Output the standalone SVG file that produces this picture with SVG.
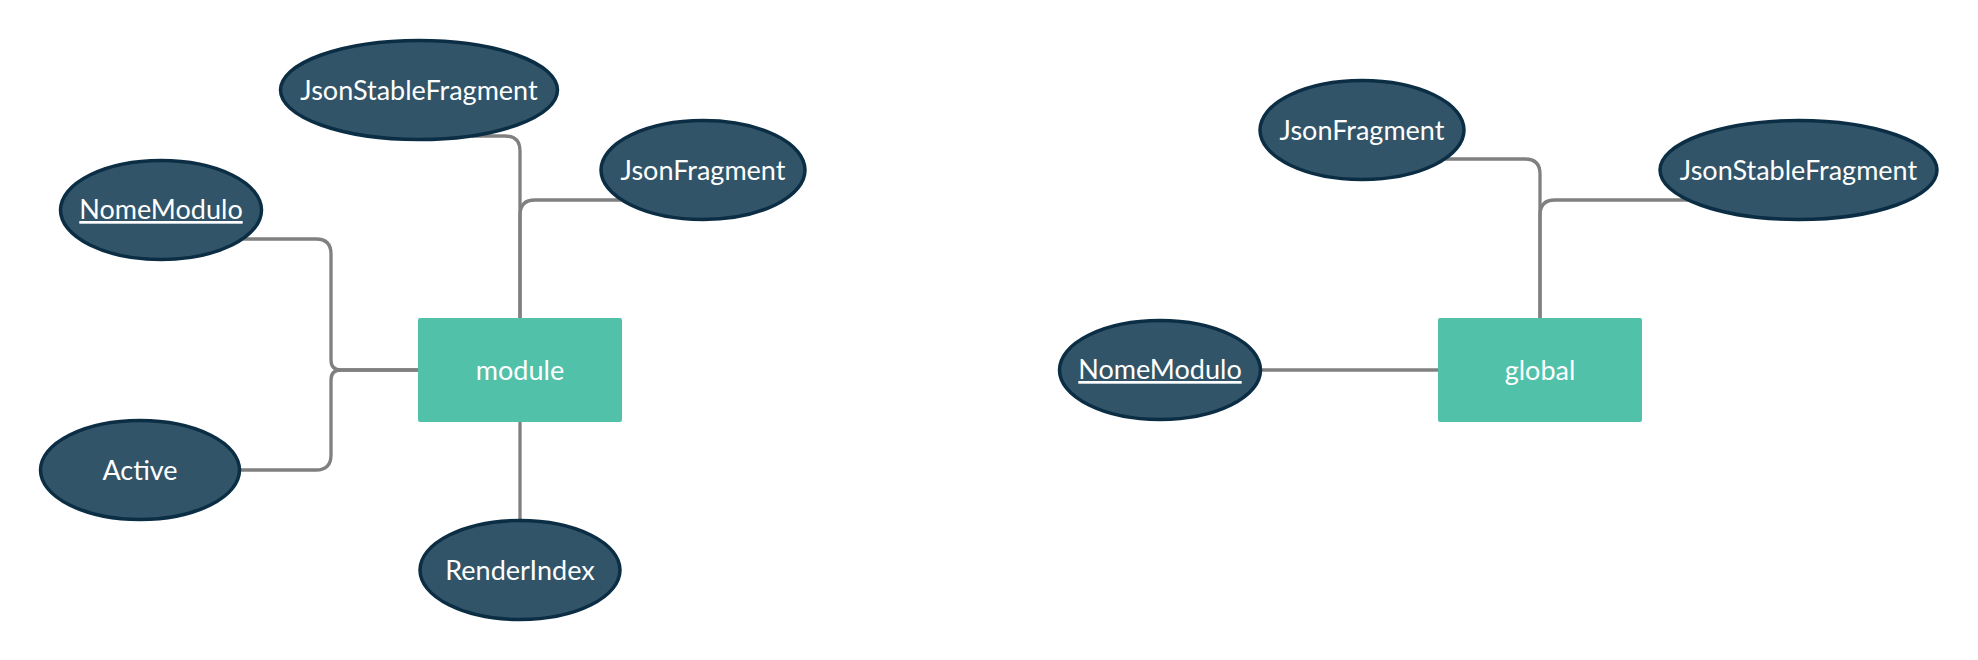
<svg xmlns="http://www.w3.org/2000/svg" width="1978" height="660" viewBox="0 0 1978 660">
<style>
.bg{fill:#ffffff}
.conn path{fill:none;stroke:#808080;stroke-width:3.3;stroke-linecap:butt}
.attr ellipse{fill:#315468;stroke:#0b2e45;stroke-width:3.5}
.ent rect{fill:#51c1aa}
text{font-family:Lato,"Liberation Sans",sans-serif;font-size:27px;fill:#ffffff;text-anchor:middle}
.key{text-decoration:underline}
</style>
<rect class="bg" x="0" y="0" width="1978" height="660"/>
<g id="connectors" class="conn">
<path d="M472,136 H505 Q520,136 520,151 V318"/>
<path d="M621,200 H535 Q520,200 520,215 V318"/>
<path d="M240,239 H316 Q331,239 331,254 V360 Q331,370 341,370 H418"/>
<path d="M240,470 H316 Q331,470 331,455 V380 Q331,370 341,370 H418"/>
<path d="M520,422 V519"/>
<path d="M1444,159 H1525 Q1540,159 1540,174 V318"/>
<path d="M1689,200 H1555 Q1540,200 1540,215 V318"/>
<path d="M1262,370 H1438"/>
</g>
<g id="module" class="ent"><rect x="418" y="318" width="204" height="104" rx="2"/><text x="520" y="380">module</text></g>
<g id="module-JsonStableFragment" class="attr"><ellipse cx="419" cy="90" rx="138.5" ry="49.5"/><text x="419" y="99.5">JsonStableFragment</text></g>
<g id="module-JsonFragment" class="attr"><ellipse cx="703" cy="170" rx="102" ry="49.5"/><text x="703" y="179.5">JsonFragment</text></g>
<g id="module-NomeModulo" class="attr"><ellipse cx="161" cy="210" rx="100.5" ry="49.5"/><text class="key" x="161" y="219">NomeModulo</text></g>
<g id="module-Active" class="attr"><ellipse cx="140" cy="470" rx="99.5" ry="49.5"/><text x="140" y="479.5">Active</text></g>
<g id="module-RenderIndex" class="attr"><ellipse cx="520" cy="570" rx="100" ry="49.5"/><text x="520" y="579.5">RenderIndex</text></g>
<g id="global" class="ent"><rect x="1438" y="318" width="204" height="104" rx="2"/><text x="1540" y="380">global</text></g>
<g id="global-JsonFragment" class="attr"><ellipse cx="1362" cy="130" rx="102" ry="49.5"/><text x="1362" y="139.5">JsonFragment</text></g>
<g id="global-JsonStableFragment" class="attr"><ellipse cx="1798.5" cy="170" rx="138.5" ry="49.5"/><text x="1798.5" y="179.5">JsonStableFragment</text></g>
<g id="global-NomeModulo" class="attr"><ellipse cx="1160" cy="370" rx="100.5" ry="49.5"/><text class="key" x="1160" y="379">NomeModulo</text></g>
</svg>
